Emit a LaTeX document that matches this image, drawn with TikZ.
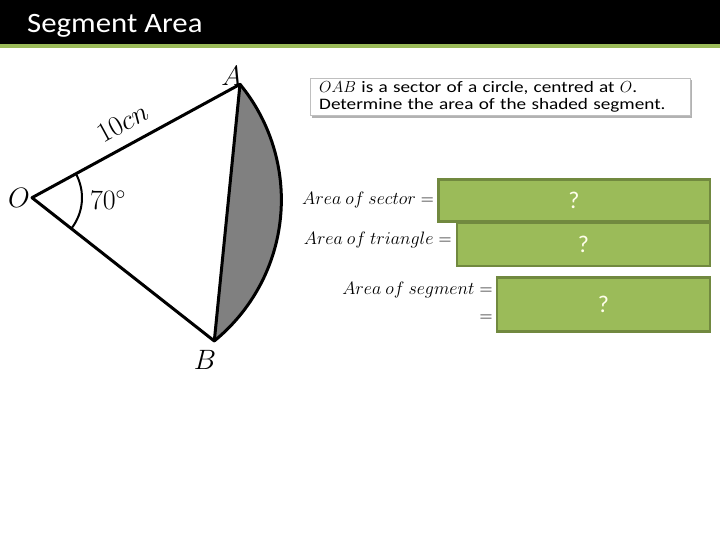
\RequirePackage{fix-cm}
\documentclass[tikz,border=0pt]{standalone}
\usepackage{fontspec}
\setmainfont{Carlito}
\newfontfamily\titlefont{Carlito}[FakeStretch=1.1]
\newfontfamily\notefont{Carlito}[FakeStretch=1.2]
\usepackage{xcolor}
\usetikzlibrary{positioning,calc,shadows}
\definecolor{slidegreen}{HTML}{9BBB59}
\definecolor{slideedge}{HTML}{71893F}
\definecolor{segshade}{HTML}{808080}

\begin{document}
\begin{tikzpicture}[
    x=1pt, y=1pt,
    answer/.style={draw=slideedge, line width=2.5pt, fill=slidegreen, text=white!92!yellow, font=\fontsize{24}{28}\selectfont, inner sep=0pt},
    lbl/.style={font=\fontsize{18}{21}\selectfont, inner sep=0pt, anchor=base east},
    pt/.style={font=\fontsize{28}{32}\selectfont, inner sep=0pt},
    edge/.style={line width=3pt, line join=round, line cap=round}
]
\useasboundingbox (0,0) rectangle (720,540);

% title bar
\fill[black] (0,496) rectangle (720,540);
\fill[slidegreen] (0,492) rectangle (720,496);
\node[anchor=base west, text=white, font=\titlefont\fontsize{28}{32}\selectfont, inner sep=0pt] (title) at (27,507) {Segment Area};

% sector OAB
\coordinate (O) at (32,342.3);
\coordinate (A) at (240,455.7);
\coordinate (B) at (214.3,199);
\fill[segshade] (A) arc[start angle=39.4, end angle=-50.8, radius=182pt] -- cycle;
\draw[edge] (A) -- (O) -- (B);
\draw[edge] (A) -- (B);
\draw[edge] (A) arc[start angle=39.4, end angle=-50.8, radius=182pt];
\draw[line width=2pt] ($(O)+(28.6:50pt)$) arc[start angle=28.6, end angle=-38.2, radius=50pt];

% labels of the sector
\node[pt] (labA) at (231.7,464.3) {$A$};
\node[pt] (labB) at (205,180.5) {$B$};
\node[pt] (labO) at (19,342.5) {$O$};
\node[pt] (angle) at (108,340) {$70^\circ$};
\node[pt, rotate=28.6] (radius) at (122.5,417.5) {$10cn$};

% question
\node[anchor=north west, draw=gray!50, fill=white,
      drop shadow={shadow xshift=2pt, shadow yshift=-2pt, fill=gray!60, opacity=1},
      text width=362pt, inner xsep=9pt, inner ysep=3pt, align=left,
      font=\notefont\fontsize{16}{17.5}\selectfont] (question) at (310,462)
  {$OAB$ is a sector of a circle, centred at $O$.\\Determine the area of the shaded segment.};

% answer boxes
\node[answer, minimum width=271.5pt, minimum height=42pt] (sector) at (574,339.5) {?};
\node[answer, minimum width=252.8pt, minimum height=43pt] (triangle) at (583.4,295.5) {?};
\node[answer, minimum width=212.8pt, minimum height=54pt] (segment) at (603.4,235.6) {?};

% working
\node[lbl] (labsector) at ([xshift=-3pt, yshift=-4.5pt]sector.west) {$Area\ of\ sector =$};
\node[lbl] (labtriangle) at ([xshift=-4pt, yshift=-0.5pt]triangle.west) {$Area\ of\ triangle =$};
\node[lbl] (labsegment) at ([xshift=-3pt, yshift=9.4pt]segment.west) {$Area\ of\ segment =$};
\node[lbl] (labequals) at ([xshift=-3pt, yshift=-16.8pt]segment.west) {$=$};

\end{tikzpicture}
\end{document}
